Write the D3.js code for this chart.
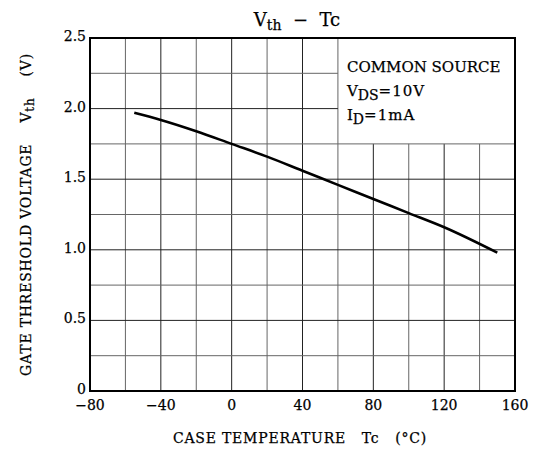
<!DOCTYPE html>
<html>
<head>
<meta charset="utf-8">
<script src="https://cdn.jsdelivr.net/npm/d3@7"></script>
<style>
  body { margin: 0; background: #fff; }
  text { font-family: "DejaVu Serif", "Liberation Serif", serif; fill: #000; stroke: #000; stroke-width: 0.25px; }
</style>
</head>
<body>
<svg id="chart"></svg>
<script>
// Vth vs case temperature
const temps = [-55, -40, -20, 0, 20, 40, 60, 80, 100, 120, 150];
const vth = [1.97, 1.92, 1.84, 1.75, 1.66, 1.56, 1.46, 1.36, 1.26, 1.16, 0.98];
const xTicks = [-80, -40, 0, 40, 80, 120, 160];
const yTicks = [0, 0.5, 1.0, 1.5, 2.0, 2.5];
const legendLines = ["COMMON SOURCE", ["V", "DS", "=10V"], ["I", "D", "=1mA"]];

const width = 533, height = 453;
const margin = { left: 90, right: 18, top: 38, bottom: 62 };

const svg = d3.select("#chart").attr("width", width).attr("height", height);

const x = d3.scaleLinear().domain([-80, 160]).range([margin.left, width - margin.right]);
const y = d3.scaleLinear().domain([0, 2.5]).range([height - margin.bottom, margin.top]);

// grid, leaving the legend box (60..160 C, 1.75..2.5 V) empty
const grid = svg.append("g");
d3.range(-60, 160, 20).forEach(t => {
    const top = t > 60 ? y(1.75) : y(2.5);
    grid.append("line")
        .attr("x1", x(t)).attr("x2", x(t))
        .attr("y1", top).attr("y2", y(0))
        .attr("stroke", t % 40 === 0 ? "#222" : "#666")
        .attr("stroke-width", 1);
});
d3.range(0.25, 2.5, 0.25).forEach(v => {
    const right = v > 1.75 ? x(60) : x(160);
    grid.append("line")
        .attr("x1", x(-80)).attr("x2", right)
        .attr("y1", y(v)).attr("y2", y(v))
        .attr("stroke", Math.abs(v * 2 - Math.round(v * 2)) < 1e-6 ? "#222" : "#666")
        .attr("stroke-width", 1);
});

// frame
svg.append("rect")
    .attr("x", x(-80)).attr("y", y(2.5))
    .attr("width", x(160) - x(-80)).attr("height", y(0) - y(2.5))
    .attr("fill", "none").attr("stroke", "#000").attr("stroke-width", 2);

// curve
const line = d3.line().x((d, i) => x(temps[i])).y(d => y(d)).curve(d3.curveMonotoneX);
svg.append("path")
    .datum(vth)
    .attr("d", line)
    .attr("fill", "none")
    .attr("stroke", "#000")
    .attr("stroke-width", 2.6);

// tick labels
const fmtX = t => t < 0 ? "\u2212" + Math.abs(t) : String(t);
svg.append("g").selectAll("text").data(xTicks).enter().append("text")
    .attr("x", d => x(d)).attr("y", y(0) + 19)
    .attr("text-anchor", "middle")
    .style("font-size", "14px")
    .text(fmtX);

svg.append("g").selectAll("text").data(yTicks).enter().append("text")
    .attr("x", x(-80) - 4).attr("y", d => y(d) + 3)
    .attr("text-anchor", "end")
    .style("font-size", "14px")
    .text(d => d === 0 ? "0" : d.toFixed(1));

// title
const title = svg.append("text")
    .attr("x", 297).attr("y", 26)
    .attr("text-anchor", "middle")
    .attr("xml:space", "preserve")
    .style("font-size", "18px");
title.append("tspan").text("V");
title.append("tspan").attr("dy", 4).style("font-size", "14px").text("th");
title.append("tspan").attr("dy", -4).text("  \u2212  Tc");

// x axis title
svg.append("text")
    .attr("x", 300).attr("y", 443)
    .attr("text-anchor", "middle")
    .attr("xml:space", "preserve")
    .style("font-size", "14px")
    .style("letter-spacing", "0.8px")
    .text("CASE TEMPERATURE   Tc   (\u00b0C)");

// y axis title
const yt = svg.append("text")
    .attr("transform", `translate(31, ${(y(0) + y(2.5)) / 2}) rotate(-90)`)
    .attr("text-anchor", "middle")
    .attr("xml:space", "preserve")
    .style("font-size", "14px")
    .style("letter-spacing", "0.8px");
yt.append("tspan").text("GATE THRESHOLD VOLTAGE    V");
yt.append("tspan").attr("dy", 3).style("font-size", "12px").text("th");
yt.append("tspan").attr("dy", -3).text("    (V)");

// legend text
legendLines.forEach((l, i) => {
    const t = svg.append("text")
        .attr("x", x(60) + 9).attr("y", 72 + i * 24)
        .attr("xml:space", "preserve")
        .style("font-size", "15px");
    if (typeof l === "string") {
        t.text(l);
    } else {
        t.append("tspan").text(l[0]);
        t.append("tspan").attr("dy", 4).style("font-size", "14px").text(l[1]);
        t.append("tspan").attr("dy", -4).style("font-size", "15px").style("letter-spacing", "1px").text(l[2]);
    }
});
</script>
</body>
</html>
